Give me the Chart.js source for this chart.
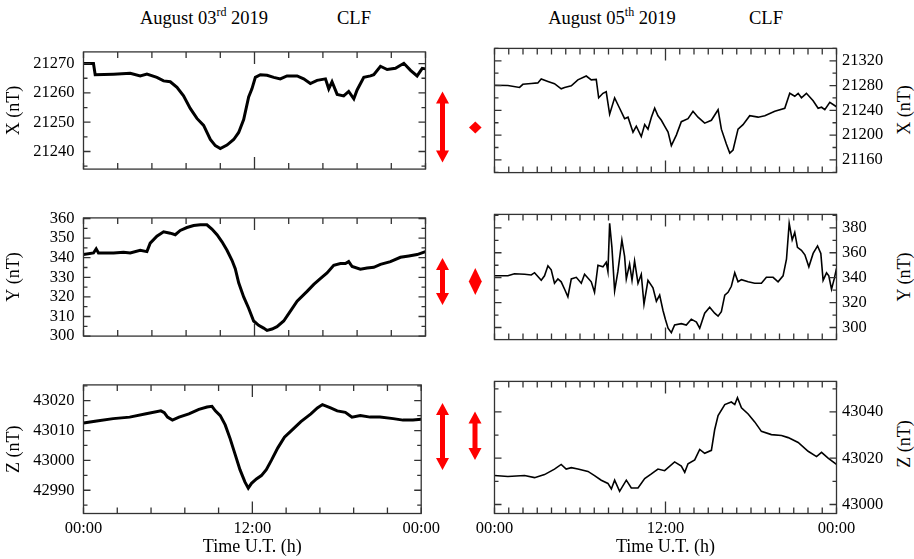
<!DOCTYPE html>
<html>
<head>
<meta charset="utf-8">
<script src="https://cdn.jsdelivr.net/npm/chart.js@4.4.1/dist/chart.umd.min.js"></script>
<style>
  body { margin:0; background:#fff; width:914px; height:559px; position:relative; overflow:hidden;
         font-family:"Liberation Serif","Times New Roman",serif; color:#000; }
  canvas { position:absolute; }
  .hd { position:absolute; top:7px; font-size:18.5px; line-height:22px; white-space:nowrap; transform:translateX(-50%); }
  .hd sup { font-size:12px; line-height:0; vertical-align:8px; }
  .yt { position:absolute; font-size:18px; white-space:nowrap; transform:translate(-50%,-50%) rotate(-90deg); }
  svg { position:absolute; left:0; top:0; }
</style>
</head>
<body>
<div class="hd" style="left:204px">August 03<sup>rd</sup> 2019</div>
<div class="hd" style="left:354px">CLF</div>
<div class="hd" style="left:612px">August 05<sup>th</sup> 2019</div>
<div class="hd" style="left:766px">CLF</div>
<div class="yt" style="left:904px;top:110px">X (nT)</div>
<div class="yt" style="left:904px;top:277px">Y (nT)</div>
<div class="yt" style="left:904px;top:444px">Z (nT)</div>
<svg id="marks" width="914" height="559"></svg>

<script>
var FONT = '"Liberation Serif","Times New Roman",serif';

// --- August 03 2019, CLF (hours U.T. / nT)
var x03Hours = [0,0.70,0.82,2.11,3.28,3.98,4.45,5.15,5.62,6.09,6.56,7.02,7.49,7.96,8.43,8.90,9.25,9.60,10.07,10.54,10.89,11.24,11.59,11.82,12.06,12.41,12.88,13.35,13.81,14.28,14.99,15.45,15.92,16.39,16.98,17.21,17.44,17.80,18.26,18.61,18.97,19.20,19.67,20.14,20.37,20.84,21.31,21.89,22.48,22.95,23.41,23.77,24];
var x03Values = [21270,21270,21266.2,21266.4,21266.7,21265.8,21266.4,21265.3,21264.1,21263.8,21261.9,21259,21254.7,21251.3,21248.9,21244.1,21242,21241,21242.2,21244.1,21246.5,21250.9,21258.6,21261.4,21265.3,21266.2,21266,21265.3,21264.8,21265.8,21265.8,21264.8,21263.2,21264.3,21264.8,21261.4,21263.8,21259.5,21259,21260.5,21258,21261,21265.3,21265.8,21266.2,21269.1,21268,21268.4,21270.1,21267.7,21265.8,21268.4,21268.2];

var y03Hours = [0,0.70,0.89,1.05,2.11,2.81,3.28,3.98,4.45,4.68,5.15,5.62,6.09,6.44,6.79,7.26,7.73,8.20,8.66,9.01,9.37,9.72,10.07,10.42,10.65,10.89,11.24,11.59,11.94,12.29,12.64,12.88,13.23,13.58,14.05,14.52,14.99,15.69,16.16,16.62,17.09,17.56,18.03,18.38,18.61,18.85,19.43,19.90,20.37,20.84,21.54,22.24,22.83,23.41,24];
var y03Values = [341.6,342.4,344.5,342.4,342.4,342.8,342.4,343.8,343.1,347.4,351,353.2,352.5,351.7,353.9,355.4,356.4,356.8,356.8,354.6,351.7,348.1,343.8,338.7,334.4,327.2,320,314.2,307.7,305.5,304.1,302.9,303.6,304.8,307.7,312.7,317.8,322.8,326.4,329.3,332.2,336.1,337,337,338,335.5,334.1,334.7,335.1,336.6,338,340.2,340.9,341.6,343.1];

var z03Hours = [0,0.94,2.11,3.28,4.45,5.50,5.74,5.97,6.32,6.79,7.49,8.20,8.78,9.13,9.37,9.72,10.07,10.42,10.77,11.12,11.47,11.71,11.94,12.29,12.64,12.99,13.35,13.81,14.28,14.87,15.45,16.16,16.62,16.98,17.56,18.03,18.61,19.08,19.67,20.37,21.07,22.01,22.71,23.41,24];
var z03Values = [43012.5,43013.2,43014,43014.5,43015.6,43016.6,43016,43014.5,43013.5,43014.5,43015.6,43017.1,43017.9,43018.1,43016.6,43015,43011.9,43007.3,43002.1,42996.9,42992.8,42990.7,42992.3,42993.8,42994.9,42996.9,43000,43004.2,43007.8,43010.4,43013,43015.6,43017.6,43018.7,43017.6,43016.6,43016.1,43014.5,43015,43014.5,43014.5,43014,43013.5,43013.5,43013.8];

// --- August 05 2019, CLF
var x05Hours = [0,0.94,1.76,1.99,2.58,3.04,3.28,3.75,4.21,4.68,4.92,5.39,5.85,6.44,6.79,7.14,7.31,7.61,7.84,8.08,8.43,8.78,9.13,9.37,9.72,9.95,10.30,10.54,10.77,11.01,11.24,11.47,11.71,11.94,12.18,12.41,12.76,13.11,13.58,13.93,14.28,14.75,15.22,15.69,15.92,16.27,16.51,16.74,17.09,17.44,17.91,18.50,18.97,19.67,20.37,20.72,21.07,21.31,21.54,21.89,22.36,22.71,22.95,23.18,23.53,24];
var x05Values = [21280.5,21280,21277,21282,21283.4,21284.3,21290.6,21286.7,21283,21274.7,21277,21279.5,21289.2,21295.4,21289.2,21290,21260.2,21267.5,21270,21233.7,21260.2,21243.4,21226.5,21229,21204.8,21214.5,21197.6,21216.9,21209.6,21228.9,21243.4,21231.3,21224,21214.5,21204.8,21183.1,21200,21221.7,21226.5,21238.6,21229,21219.3,21224,21241,21209.6,21185.5,21171,21175.9,21209.6,21216.9,21231.3,21229,21231.3,21238.6,21243.4,21267.5,21262.7,21267.5,21260.2,21267.5,21255.4,21243.4,21245,21241,21253,21245.8];

var y05Hours = [0,0.94,1.40,2.11,2.58,2.81,3.28,3.51,3.75,3.98,4.21,4.45,4.68,4.92,5.15,5.39,5.74,6.09,6.32,6.79,7.02,7.26,7.61,7.84,7.96,8.08,8.24,8.43,8.66,8.94,9.13,9.25,9.48,9.65,9.83,10.07,10.30,10.49,10.77,11.12,11.36,11.59,11.82,11.99,12.18,12.41,12.64,13.11,13.46,13.81,14.17,14.40,14.75,15.10,15.45,15.69,15.92,16.16,16.39,16.62,16.86,17.09,17.33,17.80,18.26,18.73,19.08,19.55,19.90,20.25,20.49,20.68,20.89,21.07,21.26,21.54,21.78,22.06,22.36,22.67,22.90,23.06,23.30,23.46,23.65,23.84,24];
var y05Values = [341.5,341.5,343.2,342.7,342.2,344,338,341.5,349.5,346.3,335.5,339,336.7,330.7,324.7,339,340.3,335.5,342.7,336.7,328.3,350,348.7,352.4,345,383.6,364.3,329.5,345,370.3,357.1,339,351,337.9,353.5,335.5,342.7,318.7,337.9,331.9,321.1,326,313.9,306.7,299.5,295.9,302,303.1,302,306.7,304.3,299.5,311.5,316.3,311.5,309.1,312.7,326,328.3,333.1,343.9,336.7,338.4,336.7,335.5,335.5,340.3,340.3,336.7,341.5,354.8,383.6,370.3,376.3,364.3,362,358.4,348.7,359.5,365.5,359.5,337.9,343.9,341.5,330.7,339,347.5];

var z05Hours = [0,0.94,2.11,2.81,3.51,4.21,4.68,5.03,5.39,5.85,6.56,7.02,7.49,7.96,8.20,8.43,8.78,9.25,9.60,10.07,10.54,11.01,11.47,11.94,12.64,13.11,13.35,13.58,14.05,14.40,14.75,15.22,15.45,15.69,16.16,16.62,16.86,17.05,17.33,17.80,18.26,18.73,19.43,20.14,20.61,21.31,22.01,22.60,22.95,23.41,24];
var z05Values = [43012.5,43012.1,43012.5,43011.6,43012.9,43015.3,43017.3,43015.3,43015.9,43015.3,43014.3,43012.5,43010.5,43009.1,43006.7,43010.5,43005.7,43010.5,43007.1,43007.1,43011.2,43013.2,43015.3,43014.6,43018.4,43016.6,43013.9,43017.6,43019.3,43023.8,43022.1,43023.4,43032.3,43038.4,43043.2,43044.3,43043.2,43046.2,43041.8,43039.1,43035.7,43031.6,43030.2,43029.8,43028.9,43026.8,43023,43020.7,43022.5,43020,43017.3];

// tick labels on the time axis
var xLabelHours = [0, 12, 24];
var xLabelText = ['00:00', '12:00', '00:00'];

// per panel: y range, minor tick step, labelled step, axis name
var panels = [
  {col:0, row:0, t:x03Hours, v:x03Values, min:21234, max:21274, step:5, lab:10, name:'X (nT)'},
  {col:0, row:1, t:y03Hours, v:y03Values, min:300, max:360.3, step:5, lab:10, name:'Y (nT)'},
  {col:0, row:2, t:z03Hours, v:z03Values, min:42982.2, max:43025.3, step:5, lab:10, name:'Z (nT)'},
  {col:1, row:0, t:x05Hours, v:x05Values, min:21139.5, max:21340, step:20, lab:40, name:'X (nT)'},
  {col:1, row:1, t:y05Hours, v:y05Values, min:290.3, max:390.8, step:10, lab:20, name:'Y (nT)'},
  {col:1, row:2, t:z05Hours, v:z05Values, min:42996.1, max:43053.2, step:10, lab:20, name:'Z (nT)'}
];

var rowTop = [33, 199, 366], rowH = [155, 156, 193], xAxisH = [8, 8.5, 45.5];
var colLeft = [0, 455], colW = [445, 459];

// box + inward tick marks on all four sides
var frame = {
  id: 'frame',
  afterDatasetsDraw: function(chart) {
    var ctx = chart.ctx, a = chart.chartArea, x = chart.scales.x, y = chart.scales.y;
    ctx.save();
    ctx.strokeStyle = '#333';
    ctx.lineWidth = 1.3;
    ctx.beginPath();
    x.ticks.forEach(function(t) {
      var px = x.getPixelForValue(t.value);
      var len = t.value === 12 ? 12 : 6;
      ctx.moveTo(px, a.bottom); ctx.lineTo(px, a.bottom - len);
      ctx.moveTo(px, a.top); ctx.lineTo(px, a.top + len);
    });
    y.ticks.forEach(function(t) {
      var py = y.getPixelForValue(t.value);
      var len = t.label !== '' ? 7 : 4;
      ctx.moveTo(a.left, py); ctx.lineTo(a.left + len, py);
      ctx.moveTo(a.right, py); ctx.lineTo(a.right - len, py);
    });
    ctx.stroke();
    ctx.strokeRect(a.left, a.top, a.right - a.left, a.bottom - a.top);
    ctx.restore();
  }
};

panels.forEach(function(p) {
  var cv = document.createElement('canvas');
  cv.width = colW[p.col];
  cv.height = rowH[p.row];
  cv.style.left = colLeft[p.col] + 'px';
  cv.style.top = rowTop[p.row] + 'px';
  document.body.appendChild(cv);

  var right = p.col === 1, bottom = p.row === 2;
  var hourStep = right ? 1 : 2.4;

  new Chart(cv, {
    type: 'line',
    data: { datasets: [{
      data: p.t.map(function(h, i) { return {x: h, y: p.v[i]}; }),
      borderColor: '#000', borderWidth: right ? 1.6 : 3,
      pointRadius: 0, tension: 0, fill: false
    }]},
    options: {
      responsive: false, animation: false, events: [],
      layout: { padding: right ? {left: 39.5, right: 0, top: 8, bottom: 0} : {left: 0, right: 19.5, top: 8, bottom: 0} },
      plugins: { legend: { display: false }, tooltip: { enabled: false } },
      scales: {
        x: {
          type: 'linear', min: 0, max: 24,
          grid: { display: false, drawTicks: false }, border: { display: false },
          afterBuildTicks: function(s) {
            var n = Math.round(24 / hourStep), out = [];
            for (var i = 0; i <= n; i++) out.push({value: i * 24 / n});
            s.ticks = out;
          },
          afterFit: function(s) { s.height = xAxisH[p.row]; },
          ticks: {
            display: bottom, autoSkip: false, maxRotation: 0, padding: 5, color: '#000',
            font: { family: FONT, size: 16.5 },
            callback: function(v) { var k = xLabelHours.indexOf(v); return k < 0 ? '' : xLabelText[k]; }
          },
          title: { display: bottom, text: 'Time U.T. (h)', color: '#000', font: { family: FONT, size: 18 }, padding: {top: 0, bottom: 1} }
        },
        y: {
          type: 'linear', position: right ? 'right' : 'left', min: p.min, max: p.max,
          grid: { display: false, drawTicks: false }, border: { display: false },
          afterBuildTicks: function(s) {
            var out = [];
            for (var v = Math.ceil(p.min / p.step) * p.step; v <= p.max; v += p.step) out.push({value: v});
            s.ticks = out;
          },
          afterFit: function(s) { s.width = right ? 77.5 : 83.5; },
          ticks: {
            autoSkip: false, padding: right ? 5.5 : 9, color: '#000',
            font: { family: FONT, size: 16.5 },
            callback: function(v) { return v % p.lab === 0 ? String(v) : ''; }
          },
          title: { display: !right, text: p.name, color: '#000', font: { family: FONT, size: 18 }, padding: {top: 3, bottom: 0} }
        }
      }
    },
    plugins: [frame]
  });
});

// red markers between the two columns
var svg = document.getElementById('marks');
function arrow(cx, y1, y2) {
  var hh = 12, hw = 6.5, sw = 2.5;
  var pts = [[cx,y1],[cx+hw,y1+hh],[cx+sw,y1+hh],[cx+sw,y2-hh],[cx+hw,y2-hh],[cx,y2],
             [cx-hw,y2-hh],[cx-sw,y2-hh],[cx-sw,y1+hh],[cx-hw,y1+hh]];
  poly(pts);
}
function diamond(cx, cy, w, h) {
  poly([[cx,cy-h],[cx+w,cy],[cx,cy+h],[cx-w,cy]]);
}
function poly(pts) {
  var el = document.createElementNS('http://www.w3.org/2000/svg', 'polygon');
  el.setAttribute('points', pts.map(function(q) { return q.join(','); }).join(' '));
  el.setAttribute('fill', '#ff0000');
  svg.appendChild(el);
}
arrow(442.5, 91.5, 162.5);
arrow(442.5, 258, 305);
arrow(442.5, 403, 470);
diamond(475.3, 127.5, 6.3, 6);
diamond(475.3, 281.5, 6.5, 13.5);
arrow(475, 411.5, 460);
</script>
</body>
</html>
